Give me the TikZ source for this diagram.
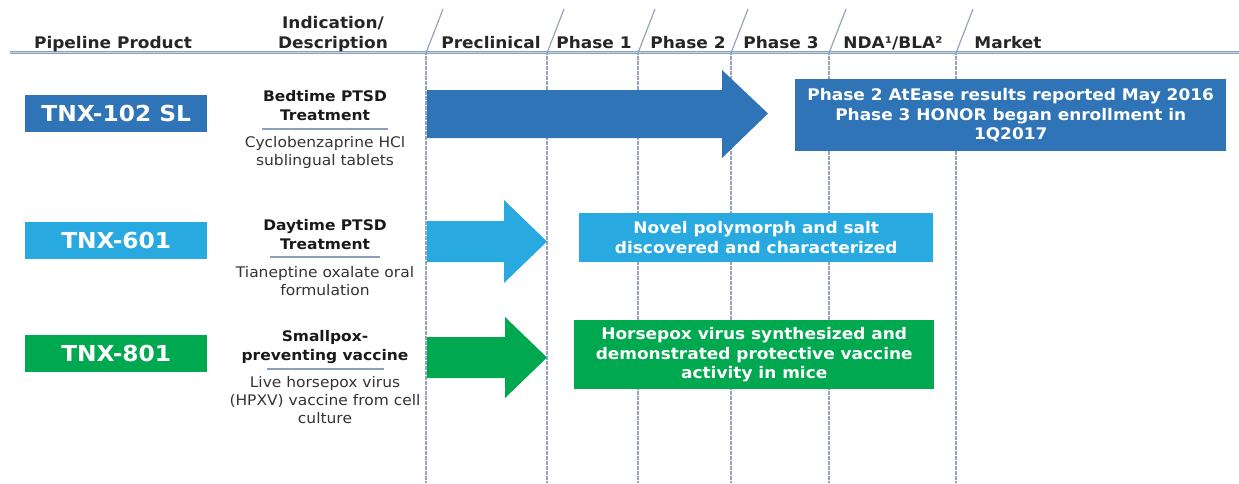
\documentclass[tikz,border=0pt]{standalone}
\usepackage{fontspec}
\setmainfont{DejaVu Sans}[FakeStretch=1.06]
\definecolor{dblue}{RGB}{46,116,182}
\definecolor{lblue}{RGB}{40,170,225}
\definecolor{vgreen}{RGB}{0,168,80}
\definecolor{gridc}{RGB}{150,163,188}
\definecolor{hdrc}{RGB}{140,160,190}
\tikzset{
  hdr/.style={font=\fontsize{16}{18}\selectfont\bfseries, text=black!85, inner sep=0pt, anchor=base},
  prod/.style={text=white, font=\fontsize{22}{24}\selectfont\bfseries, inner sep=0pt, minimum width=182pt, minimum height=37pt, anchor=north west},
  ind/.style={font=\fontsize{14.6}{19}\selectfont\bfseries, align=center, inner sep=0pt, text=black!90},
  desc/.style={font=\fontsize{14.6}{18}\selectfont, align=center, inner sep=0pt, text=black!80},
  uline/.style={draw=hdrc, line width=2.2pt},
  stat/.style={text=white, font=\fontsize{16}{19.5}\selectfont\bfseries, align=center, inner sep=0pt, anchor=north west},
  grid/.style={draw=gridc, line width=1.5pt, dash pattern=on 2pt off 0.5pt},
  slash/.style={draw=gridc, line width=1.2pt},
}
\begin{document}
\begin{tikzpicture}[x=1pt,y=-1pt]
\useasboundingbox (0,0) rectangle (1239,483);
% header line
\draw[draw=hdrc, line width=3.4pt] (10,52.5) -- (1239,52.5);
\draw[draw=white!55!hdrc, line width=0.9pt] (10,52.5) -- (1239,52.5);
% stage lines
\foreach \x [count=\i] in {426,547,638,731,829,956}{
  \coordinate (b\i) at (\x,483);
  \coordinate (m\i) at (\x,53);
  \coordinate (t\i) at (\x+17,9);
  \draw[grid] (m\i) -- (b\i);
  \draw[slash] (m\i) -- (t\i);
}
% header labels
\node[hdr] (hprod) at (113,48) {Pipeline Product};
\node[hdr] (hind) at (333,28) {Indication/};
\node[hdr] (hind2) at (333,48) {Description};
\node[hdr] (hpre) at (491,48) {Preclinical};
\node[hdr] (hp1) at (594,48) {Phase 1};
\node[hdr] (hp2) at (688,48) {Phase 2};
\node[hdr] (hp3) at (781,48) {Phase 3};
\node[hdr] (hnda) at (893,48) {NDA¹/BLA²};
\node[hdr] (hmkt) at (1008,48) {Market};

% Row 1
\node[prod, fill=dblue] (p1) at (25,95) {TNX-102 SL};
\node[ind] (i1) at (325,106) {Bedtime PTSD\\Treatment};
\draw[uline] (262,129) -- (388,129);
\node[desc] (d1) at (325,152) {Cyclobenzaprine HCl\\sublingual tablets};
\fill[dblue] (427,90) -- (722,90) -- (722,70) -- (768,113.5) -- (722,158) -- (722,138) -- (427,138) -- cycle;
\node[stat, fill=dblue, minimum width=431pt, minimum height=72pt] (s1) at (795,79) {};
\node[stat, anchor=center] (s1t) at (s1.center) {Phase 2 AtEase results reported May 2016\\Phase 3 HONOR began enrollment in\\1Q2017};

% Row 2
\node[prod, fill=lblue] (p2) at (25,222) {TNX-601};
\node[ind] (i2) at (325,235) {Daytime PTSD\\Treatment};
\draw[uline] (270,257) -- (380,257);
\node[desc] (d2) at (325,281) {Tianeptine oxalate oral\\formulation};
\fill[lblue] (427,221) -- (504,221) -- (504,200) -- (547,241.5) -- (504,283) -- (504,262) -- (427,262) -- cycle;
\node[stat, fill=lblue, minimum width=354pt, minimum height=49pt] (s2) at (579,213) {};
\node[stat, anchor=center] (s2t) at (s2.center) {Novel polymorph and salt\\discovered and characterized};

% Row 3
\node[prod, fill=vgreen] (p3) at (25,335) {TNX-801};
\node[ind] (i3) at (325,347) {Smallpox-\\preventing vaccine};
\draw[uline] (267,369) -- (384,369);
\node[desc] (d3) at (325,400) {Live horsepox virus\\(HPXV) vaccine from cell\\culture};
\fill[vgreen] (427,337) -- (505,337) -- (505,317) -- (547,357.5) -- (505,398) -- (505,378) -- (427,378) -- cycle;
\node[stat, fill=vgreen, minimum width=360pt, minimum height=69pt] (s3) at (574,320) {};
\node[stat, anchor=center] (s3t) at (s3.center) {Horsepox virus synthesized and\\demonstrated protective vaccine\\activity in mice};
\end{tikzpicture}
\end{document}
